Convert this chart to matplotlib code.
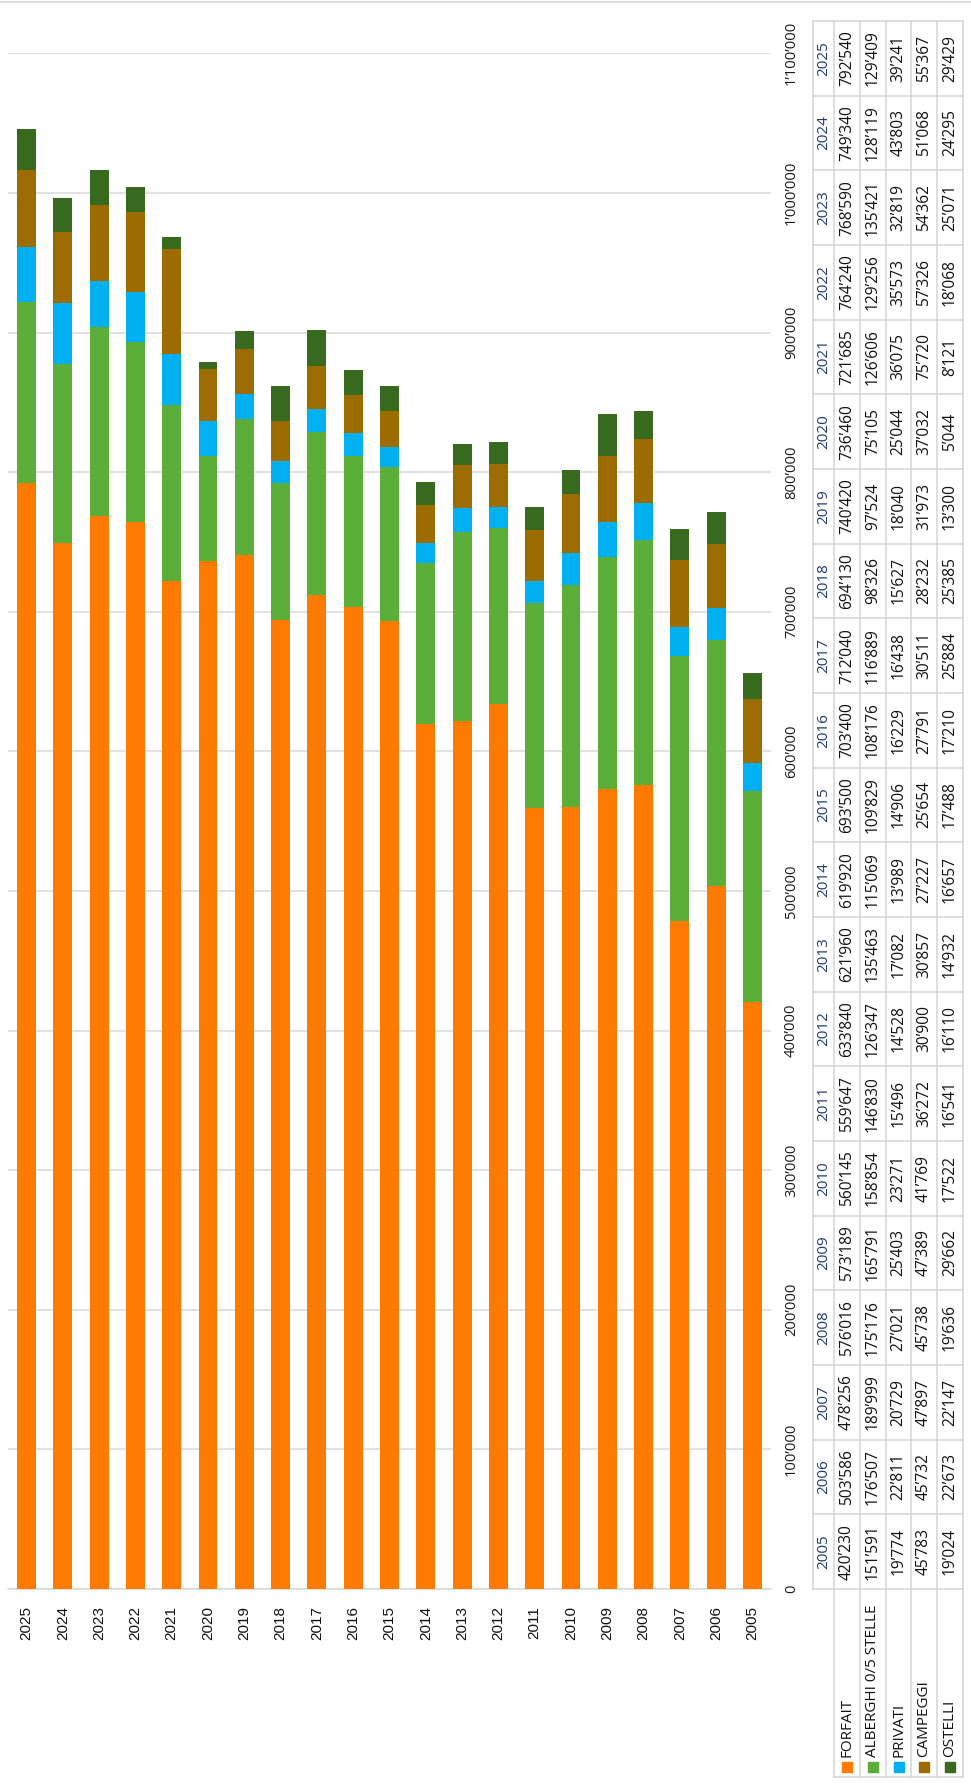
import matplotlib.pyplot as plt
from matplotlib.ticker import FuncFormatter
from matplotlib.patches import Rectangle

# data (one value per year, 2005 -> 2025)
years = list(range(2005, 2026))
forfait = [420230, 503586, 478256, 576016, 573189, 560145, 559647, 633840, 621960, 619920, 693500,
           703400, 712040, 694130, 740420, 736460, 721685, 764240, 768590, 749340, 792540]
alberghi = [151591, 176507, 189999, 175176, 165791, 158854, 146830, 126347, 135463, 115069, 109829,
            108176, 116889, 98326, 97524, 75105, 126606, 129256, 135421, 128119, 129409]
privati = [19774, 22811, 20729, 27021, 25403, 23271, 15496, 14528, 17082, 13989, 14906,
           16229, 16438, 15627, 18040, 25044, 36075, 35573, 32819, 43803, 39241]
campeggi = [45783, 45732, 47897, 45738, 47389, 41769, 36272, 30900, 30857, 27227, 25654,
            27791, 30511, 28232, 31973, 37032, 75720, 57326, 54362, 51068, 55367]
ostelli = [19024, 22673, 22147, 19636, 29662, 17522, 16541, 16110, 14932, 16657, 17488,
           17210, 25884, 25385, 13300, 5044, 8121, 18068, 25071, 24295, 29429]

series = ["FORFAIT", "ALBERGHI 0/5 STELLE", "PRIVATI", "CAMPEGGI", "OSTELLI"]
data = [forfait, alberghi, privati, campeggi, ostelli]
colors = ["#FF7A00", "#5BAE38", "#00B0F0", "#9C6C00", "#376A1F"]


def fmt(v):
    return f"{int(v):,}".replace(",", "\u2019")


W, H = 971, 1791
fig = plt.figure(figsize=(W / 100, H / 100), dpi=100)
fig.patch.set_facecolor("white")

# chart (the whole picture is turned 90 degrees)
ax = fig.add_axes([8.35 / W, (H - 1589) / H, (770.65 - 8.35) / W, (1589 - 53.3) / H])
pos = [2025 - y for y in years]
bottom = [0] * len(years)
for name, vals, c in zip(series, data, colors):
    ax.bar(pos, vals, 0.52, bottom=bottom, color=c, zorder=3)
    bottom = [b + v for b, v in zip(bottom, vals)]

ax.set_xlim(-0.5, 20.5)
ax.set_ylim(0, 1100000)
ax.set_yticks(range(0, 1100001, 100000))
ax.yaxis.set_major_formatter(FuncFormatter(lambda v, p: fmt(v)))
ax.yaxis.tick_right()
ax.tick_params(axis="y", length=0, pad=15, labelrotation=90, labelsize=10.6, labelcolor="#1a1a1a")
for t in ax.get_yticklabels():
    t.set_ha("center")
    t.set_va("center")
    t.set_fontfamily("Open Sans")

ax.set_xticks(pos, [str(y) for y in years])
ax.tick_params(axis="x", length=0, pad=12, labelrotation=90, labelsize=11, labelcolor="#111111")
for t in ax.get_xticklabels():
    t.set_fontfamily("Liberation Sans")

ax.grid(axis="y", color="#d9d9d9", lw=1.1, zorder=0)
ax.grid(axis="x", visible=False)
ax.axhline(0, color="#d9d9d9", lw=1.1, clip_on=False, zorder=2)
for s in ax.spines.values():
    s.set_visible(False)

# overlay in pixel units for the data table
ov = fig.add_axes([0, 0, 1, 1], zorder=-1)
ov.set_xlim(0, W)
ov.set_ylim(H, 0)
ov.axis("off")

lc = "#d4d4d4"
ov.plot([0, W], [1.5, 1.5], color=lc, lw=1.1)

col_x = [813, 834, 860, 886, 911, 937, 963]
top, bot, leg_bot = 21, 1589, 1777
rh = (bot - top) / len(years)

for k in range(len(years) + 1):
    ov.plot([col_x[0], col_x[-1]], [top + k * rh] * 2, color=lc, lw=1.1)
ov.plot([col_x[1], col_x[-1]], [leg_bot] * 2, color=lc, lw=1.1)
ov.plot([col_x[0]] * 2, [top, bot], color=lc, lw=1.1)
for x in col_x[1:]:
    ov.plot([x, x], [top, leg_bot], color=lc, lw=1.1)

for i, y in enumerate(years):
    k = 2025 - y
    cy = top + (k + 0.5) * rh
    ov.text((col_x[0] + col_x[1]) / 2, cy, str(y), rotation=90, ha="center", va="center",
            fontsize=11, color="#1f3b73", family="Open Sans")
    for j, vals in enumerate(data):
        cx = (col_x[j + 1] + col_x[j + 2]) / 2
        ov.text(cx, cy, fmt(vals[i]), rotation=90, ha="center", va="center",
                fontsize=11.2, color="#111111", family="Open Sans")

for j, (name, c) in enumerate(zip(series, colors)):
    cx = (col_x[j + 1] + col_x[j + 2]) / 2
    ov.add_patch(Rectangle((cx - 5, 1762), 10, 10, color=c))
    ov.text(cx, 1757, name, rotation=90, rotation_mode="anchor", ha="left", va="center",
            fontsize=11, color="#111111", family="Open Sans")

fig.savefig("out.png", dpi=100, facecolor="white")
